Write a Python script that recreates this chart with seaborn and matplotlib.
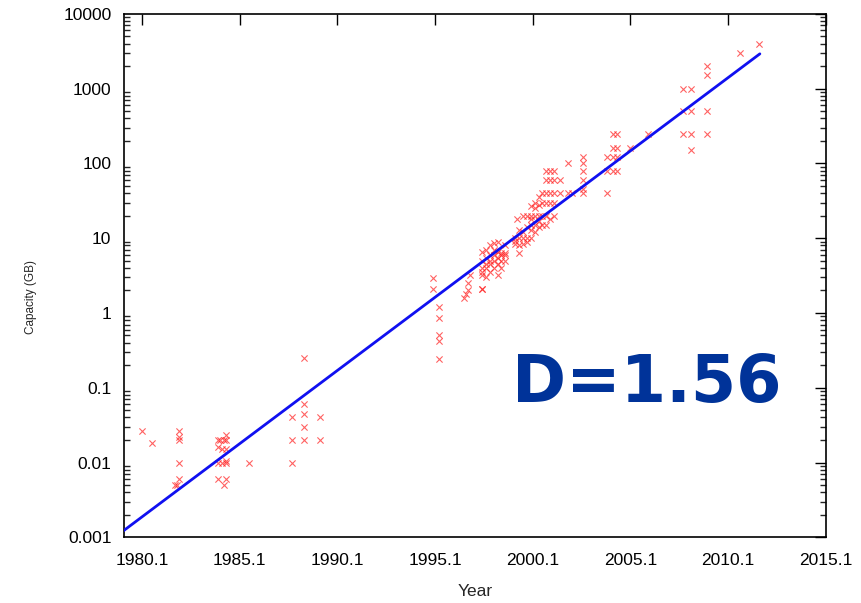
import numpy as np
import pandas as pd
import seaborn as sns
import matplotlib.pyplot as plt
from matplotlib.ticker import LogLocator, FixedLocator, NullLocator

# drive capacity (GB) by year
years = [1980.1, 1980.6,
         1981.8, 1981.9, 1982.0, 1982.0, 1982.0, 1982.0, 1982.0,
         1984.0, 1984.0, 1984.0, 1984.0, 1984.1, 1984.2, 1984.2, 1984.3, 1984.3,
         1984.4, 1984.4, 1984.4, 1984.4, 1984.4, 1984.4,
         1985.6,
         1987.8, 1987.8, 1987.8, 1988.4, 1988.4, 1988.4, 1988.4, 1988.4,
         1989.2, 1989.2,
         1995.0, 1995.0, 1995.3, 1995.3, 1995.3, 1995.3, 1995.3,
         1996.6, 1996.7, 1996.8, 1996.8, 1996.9,
         1997.5, 1997.5, 1997.5, 1997.5, 1997.5, 1997.5, 1997.5,
         1997.7, 1997.7, 1997.7, 1997.7, 1997.7,
         1997.9, 1997.9, 1997.9, 1997.9, 1997.9,
         1998.1, 1998.1, 1998.1, 1998.1, 1998.1,
         1998.3, 1998.3, 1998.3, 1998.3, 1998.3,
         1998.5, 1998.5, 1998.5, 1998.5,
         1998.7, 1998.7, 1998.7, 1998.7,
         1999.2, 1999.2, 1999.2, 1999.3,
         1999.4, 1999.4, 1999.4, 1999.4,
         1999.6, 1999.6, 1999.6, 1999.6,
         1999.8, 1999.8, 1999.8, 1999.8,
         2000.0, 2000.0, 2000.0, 2000.0, 2000.0, 2000.0,
         2000.2, 2000.2, 2000.2, 2000.2, 2000.2,
         2000.4, 2000.4, 2000.4, 2000.4, 2000.4,
         2000.6, 2000.6, 2000.6, 2000.6,
         2000.8, 2000.8, 2000.8, 2000.8, 2000.8, 2000.8,
         2001.0, 2001.0, 2001.0, 2001.0, 2001.0,
         2001.2, 2001.2, 2001.2, 2001.2, 2001.2,
         2001.5, 2001.5, 2001.9, 2001.9, 2002.1,
         2002.7, 2002.7, 2002.7, 2002.7, 2002.7, 2002.7,
         2003.9, 2003.9, 2003.9,
         2004.2, 2004.2, 2004.2, 2004.2,
         2004.4, 2004.4, 2004.4, 2004.4,
         2005.1, 2006.0,
         2007.8, 2007.8, 2007.8, 2008.2, 2008.2, 2008.2, 2008.2,
         2009.0, 2009.0, 2009.0, 2009.0,
         2010.7, 2011.7]
capacity = [0.026, 0.018,
            0.005, 0.005, 0.026, 0.02, 0.01, 0.006, 0.022,
            0.02, 0.016, 0.01, 0.006, 0.02, 0.015, 0.01, 0.005, 0.02,
            0.023, 0.02, 0.015, 0.0105, 0.01, 0.006,
            0.01,
            0.04, 0.02, 0.01, 0.25, 0.06, 0.045, 0.03, 0.02,
            0.04, 0.02,
            2.9, 2.1, 1.2, 0.85, 0.5, 0.42, 0.24,
            1.6, 1.8, 2.0, 2.5, 3.2,
            2.1, 2.1, 3.2, 3.5, 4.0, 5.0, 6.5,
            3.0, 4.0, 4.5, 5.5, 7.0,
            3.5, 4.5, 5.0, 6.0, 8.0,
            4.0, 5.0, 6.0, 7.0, 8.5,
            3.2, 4.5, 5.5, 6.5, 9.0,
            4.0, 5.0, 6.0, 6.4,
            5.0, 6.0, 6.4, 8.0,
            8.4, 9.1, 10, 18,
            6.4, 8.0, 10, 13,
            8.4, 10, 12, 20,
            9.0, 10, 14, 20,
            10, 13, 15, 18, 20, 27,
            12, 15, 20, 25, 30,
            14, 17, 20, 28, 36,
            15, 20, 30, 40,
            15, 20, 30, 40, 60, 80,
            18, 30, 40, 60, 80,
            20, 30, 40, 60, 80,
            40, 60, 40, 100, 40,
            40, 45, 60, 80, 100, 120,
            40, 80, 120,
            80, 120, 160, 250,
            80, 120, 160, 250,
            160, 250,
            1000, 500, 250, 1000, 500, 250, 150,
            2000, 1500, 500, 250,
            3000, 4000]

# exponential fit line (end points)
fit_years = [1979.0, 2011.73]
fit_capacity = [0.00114, 2920]

x_ticks = [1980.1, 1985.1, 1990.1, 1995.1, 2000.1, 2005.1, 2010.1, 2015.1]
y_ticks = [0.001, 0.01, 0.1, 1, 10, 100, 1000, 10000]
y_labels = ["0.001", "0.01", "0.1", "1", "10", "100", "1000", "10000"]

df = pd.DataFrame({"Year": years, "Capacity": capacity})
fit = pd.DataFrame({"Year": fit_years, "Capacity": fit_capacity})

sns.set_style("white")
plt.rcParams['font.family'] = ['Liberation Sans', 'DejaVu Sans']

fig = plt.figure(figsize=(8.61, 6.03), dpi=100)
ax = fig.add_axes([0.144, 0.109, 0.815, 0.868])

sns.scatterplot(data=df, x="Year", y="Capacity", marker="x", color="#ff2020",
                s=20, linewidth=0.8, alpha=0.7, ax=ax, zorder=3)
sns.lineplot(data=fit, x="Year", y="Capacity", color="#1010f0", linewidth=2.0,
             ax=ax, zorder=4)

ax.set_yscale("log")
ax.set_xlim(1979.18, 2015.1)
ax.set_ylim(0.001, 10000)
ax.xaxis.set_major_locator(FixedLocator(x_ticks))
ax.xaxis.set_minor_locator(NullLocator())
ax.set_xticklabels([f"{t:.1f}" for t in x_ticks])
ax.set_yticks(y_ticks)
ax.set_yticklabels(y_labels)
ax.yaxis.set_minor_locator(LogLocator(base=10, subs=np.arange(2, 10)))

ax.tick_params(which="major", direction="in", length=8, width=1,
               top=True, right=True, labelsize=12.5, colors="black", pad=9)
ax.tick_params(axis="x", which="major", pad=11)
ax.tick_params(which="minor", direction="in", length=4, width=1,
               left=True, right=True)
for s in ax.spines.values():
    s.set_color("black")
    s.set_linewidth(1.2)

ax.set_xlabel("Year", fontsize=12.5, labelpad=12)
ax.set_ylabel("Capacity (GB)", fontsize=8.5)
ax.yaxis.set_label_coords(-0.124, 0.46)

ax.text(0.745, 0.258, "D=1.56", transform=ax.transAxes, ha="center",
        va="baseline", fontsize=47, fontweight="bold", color="#003399",
        family="DejaVu Sans")

fig.savefig("out.png", dpi=100)
